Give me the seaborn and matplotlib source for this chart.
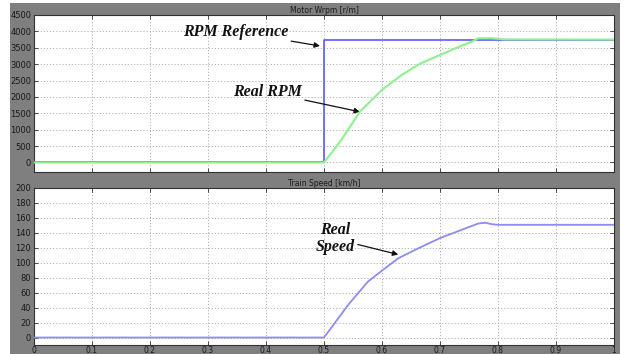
import matplotlib
matplotlib.use("Agg")
import matplotlib.pyplot as plt
from matplotlib.patches import Rectangle
import numpy as np
import pandas as pd
import seaborn as sns

sns.set_theme(style="white")
plt.rcParams["font.family"] = ["DejaVu Sans"]

# Motor speed: reference step and measured response
rpm_ref_t = [0.0, 0.5, 0.5, 1.0]
rpm_ref_v = [0, 0, 3750, 3750]
rpm_real_t = [0.0, 0.5, 0.53, 0.562, 0.6, 0.634, 0.665, 0.7, 0.73, 0.755, 0.766, 0.789, 0.812, 1.0]
rpm_real_v = [0, 0, 690, 1554, 2215, 2672, 3010, 3281, 3510, 3687, 3790, 3790, 3755, 3750]

# Train speed
speed_t = [0.0, 0.5, 0.542, 0.576, 0.602, 0.628, 0.663, 0.7, 0.732, 0.766, 0.778, 0.79, 0.8, 1.0]
speed_v = [0, 0, 44, 75, 90.7, 106, 119.5, 133, 142.5, 152.5, 153.5, 151.5, 150.8, 150.8]

x_ticks = [0, 0.1, 0.2, 0.3, 0.4, 0.5, 0.6, 0.7, 0.8, 0.9, 1]
x_labels = ["0", "0.1", "0.2", "0.3", "0.4", "0.5", "0.6", "0.7", "0.8", "0.9", "1"]
rpm_ticks = list(range(0, 4501, 500))
speed_ticks = list(range(0, 201, 20))

W, H = 626, 354
fig = plt.figure(figsize=(W / 100, H / 100), dpi=100, facecolor="white")
fig.patches.append(Rectangle((10 / W, 0), 610 / W, 1 - 3 / H, transform=fig.transFigure,
                             facecolor="#7f7f7f", edgecolor="none", zorder=-10))

ax1 = fig.add_axes([34 / W, 1 - 172 / H, 580 / W, 157 / H])
ax2 = fig.add_axes([34 / W, 1 - 345 / H, 580 / W, 157 / H])

df_ref = pd.DataFrame({"t": rpm_ref_t, "v": rpm_ref_v})
df_real = pd.DataFrame({"t": rpm_real_t, "v": rpm_real_v})
df_speed = pd.DataFrame({"t": speed_t, "v": speed_v})

sns.lineplot(data=df_ref, x="t", y="v", ax=ax1, color="#5a5aff", lw=1.2, sort=False,
             estimator=None, zorder=3)
sns.lineplot(data=df_real, x="t", y="v", ax=ax1, color="#8ef08e", lw=1.5, sort=False,
             estimator=None, zorder=4)
sns.lineplot(data=df_speed, x="t", y="v", ax=ax2, color="#8c8cf2", lw=1.3, sort=False,
             estimator=None, zorder=3)

for ax, ticks, ylim, title in [
    (ax1, rpm_ticks, (-290, 4500), "Motor Wrpm [r/m]"),
    (ax2, speed_ticks, (-10, 200), "Train Speed [km/h]"),
]:
    ax.set_facecolor("white")
    ax.set_xlim(0, 1)
    ax.set_ylim(*ylim)
    ax.set_xticks(x_ticks)
    ax.set_yticks(ticks)
    ax.set_yticklabels([str(t) for t in ticks])
    ax.set_xlabel("")
    ax.set_ylabel("")
    ax.grid(True, color="#b0b0b0", linestyle=(0, (1.2, 2)), linewidth=0.7)
    ax.tick_params(direction="in", length=3, width=0.6, colors="#333333",
                   labelsize=6, pad=2, top=True, right=True, bottom=True, left=True,
                   labelcolor="#1a1a1a")
    for s in ax.spines.values():
        s.set_color("#333333")
        s.set_linewidth(0.8)
    ax.set_title(title, fontsize=5.5, color="#1a1a1a", pad=1.5, loc="center")

ax1.set_xticklabels([])
ax2.set_xticklabels(x_labels)
ax2.tick_params(axis="x", pad=1, labelsize=5.5)

ann = dict(fontsize=11.5, fontweight="bold", fontstyle="italic",
           family=["Liberation Serif", "DejaVu Serif"], color="#111111")
arrow = dict(arrowstyle="-|>", color="#111111", lw=0.9, mutation_scale=8,
             shrinkA=0, shrinkB=0)

ax1.annotate("RPM Reference", xy=(0.493, 3555), xytext=(0.347, 3990),
             ha="center", va="center", arrowprops=arrow, **ann)
ax1.annotate("Real RPM", xy=(0.562, 1545), xytext=(0.402, 2150),
             ha="center", va="center", arrowprops=arrow, **ann)
ax2.annotate("Real\nSpeed", xy=(0.628, 111), xytext=(0.519, 132),
             ha="center", va="center", linespacing=1.1, arrowprops=arrow, **ann)

fig.savefig("out.png", dpi=100, facecolor=fig.get_facecolor())
